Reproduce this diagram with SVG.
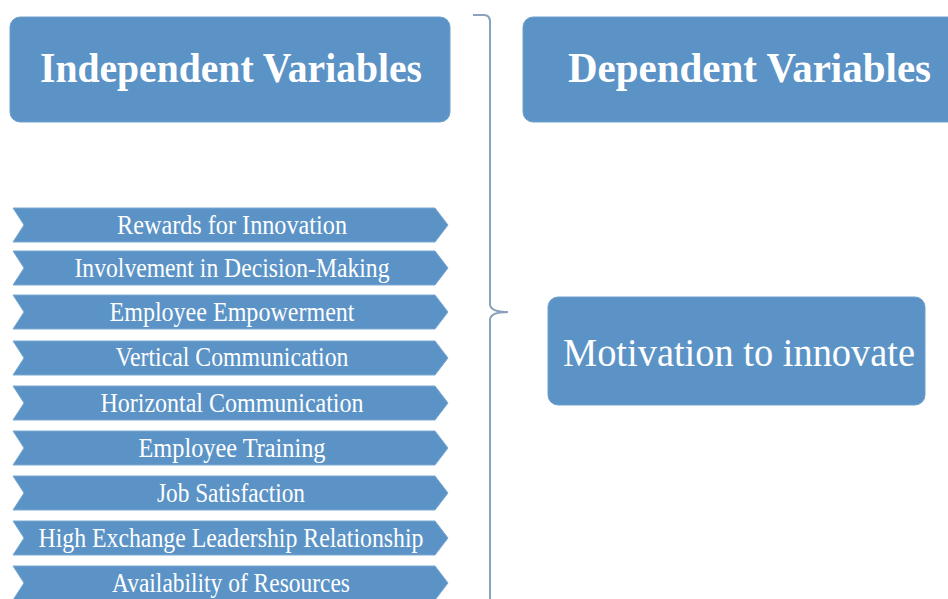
<svg xmlns="http://www.w3.org/2000/svg" width="948" height="599" viewBox="0 0 948 599">
<defs>
<style>
.box{fill:#5b93c6;stroke:#6fa0cc;stroke-width:1}
.chev{fill:#5b93c6;stroke:#7aa8d2;stroke-width:1}
.title{font-family:"Liberation Serif","DejaVu Serif",serif;font-weight:bold;font-size:42px;fill:#ffffff}
.main{font-family:"Liberation Serif","DejaVu Serif",serif;font-size:40px;fill:#ffffff}
.lbl{font-family:"Liberation Serif","DejaVu Serif",serif;font-size:28px;fill:#ffffff;text-anchor:middle}
.brace{fill:none;stroke:#8aa2bd;stroke-width:2}
</style>
<path id="chv" d="M13,0 L435,0 L448,17 L435,34 L13,34 L24,17 Z"/>
</defs>
<rect width="948" height="599" fill="#ffffff"/>
<g id="independent">
<rect class="box" x="10" y="17" width="440" height="105" rx="10"/>
<text class="title" x="40" y="82" textLength="382" lengthAdjust="spacingAndGlyphs">Independent Variables</text>
</g>
<g id="dependent">
<rect class="box" x="523" y="17" width="440" height="105" rx="10"/>
<text class="title" x="568" y="82" textLength="363" lengthAdjust="spacingAndGlyphs">Dependent Variables</text>
</g>
<g id="motivation">
<rect class="box" x="548" y="297" width="377" height="108" rx="10"/>
<text class="main" x="563" y="366" textLength="352" lengthAdjust="spacingAndGlyphs">Motivation to innovate</text>
</g>
<g id="connectors">
<path class="brace" d="M473,15 L484,15 Q490,15 490,22 L490,304 Q490,312 508,312 Q490,312 490,320 L490,599"/>
</g>
<g id="v1"><use href="#chv" class="chev" y="208"/><text class="lbl" x="232" y="234" textLength="230" lengthAdjust="spacingAndGlyphs">Rewards for Innovation</text></g>
<g id="v2"><use href="#chv" class="chev" y="251"/><text class="lbl" x="232" y="277" textLength="315" lengthAdjust="spacingAndGlyphs">Involvement in Decision-Making</text></g>
<g id="v3"><use href="#chv" class="chev" y="295"/><text class="lbl" x="232" y="321" textLength="245" lengthAdjust="spacingAndGlyphs">Employee Empowerment</text></g>
<g id="v4"><use href="#chv" class="chev" y="341"/><text class="lbl" x="232" y="366" textLength="233" lengthAdjust="spacingAndGlyphs">Vertical Communication</text></g>
<g id="v5"><use href="#chv" class="chev" y="386"/><text class="lbl" x="232" y="412" textLength="263" lengthAdjust="spacingAndGlyphs">Horizontal Communication</text></g>
<g id="v6"><use href="#chv" class="chev" y="431"/><text class="lbl" x="232" y="457" textLength="187" lengthAdjust="spacingAndGlyphs">Employee Training</text></g>
<g id="v7"><use href="#chv" class="chev" y="476"/><text class="lbl" x="231" y="502" textLength="148" lengthAdjust="spacingAndGlyphs">Job Satisfaction</text></g>
<g id="v8"><use href="#chv" class="chev" y="521"/><text class="lbl" x="231" y="547" textLength="385" lengthAdjust="spacingAndGlyphs">High Exchange Leadership Relationship</text></g>
<g id="v9"><use href="#chv" class="chev" y="566"/><text class="lbl" x="231" y="592" textLength="238" lengthAdjust="spacingAndGlyphs">Availability of Resources</text></g>
</svg>
